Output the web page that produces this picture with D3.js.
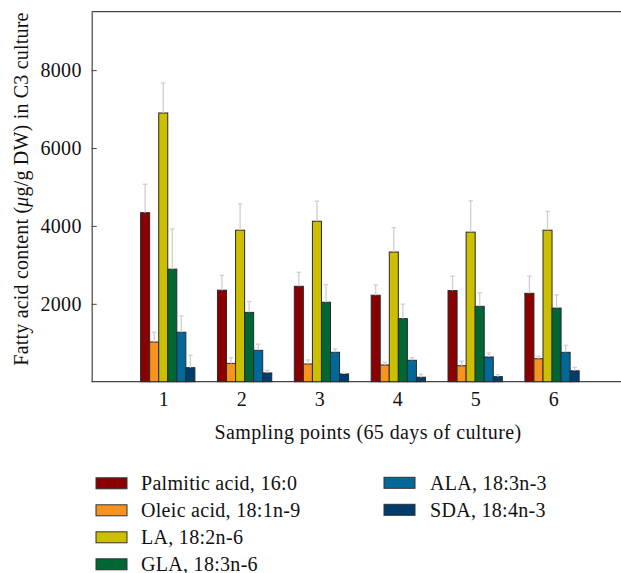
<!DOCTYPE html>
<html>
<head>
<meta charset="utf-8">
<script src="https://cdn.jsdelivr.net/npm/d3@7"></script>
<style>
  html, body { margin: 0; padding: 0; background: #fff; }
  svg { display: block; }
</style>
</head>
<body>
<svg id="chart" width="621" height="573"></svg>
<script>
// ---- data ----
const categories = ["1", "2", "3", "4", "5", "6"];
const seriesNames = ["Palmitic acid, 16:0", "Oleic acid, 18:1n-9", "LA, 18:2n-6", "GLA, 18:3n-6", "ALA, 18:3n-3", "SDA, 18:4n-3"];
const seriesColors = ["#8a0000", "#f7931e", "#cbbf00", "#006633", "#00699a", "#003d6e"];

const palmitic    = [4340, 2350, 2450, 2220, 2340, 2270];
const palmiticErr = [730, 380, 360, 260, 370, 440];
const oleic       = [1020, 470, 455, 430, 410, 590];
const oleicErr    = [250, 145, 105, 70, 120, 62];
const la          = [6900, 3890, 4120, 3330, 3840, 3890];
const laErr       = [770, 675, 515, 625, 805, 485];
const gla         = [2890, 1780, 2040, 1620, 1935, 1890];
const glaErr      = [1030, 280, 450, 370, 350, 340];
const ala         = [1270, 805, 755, 550, 635, 755];
const alaErr      = [420, 160, 85, 67, 103, 180];
const sda         = [360, 225, 200, 115, 130, 280];
const sdaErr      = [320, 70, 17, 77, 52, 88];

const yTicks = [2000, 4000, 6000, 8000];
const xTitle = "Sampling points (65 days of culture)";

const seriesValues = [palmitic, oleic, la, gla, ala, sda];
const seriesErrors = [palmiticErr, oleicErr, laErr, glaErr, alaErr, sdaErr];

// ---- layout ----
const FONT = "'Liberation Serif', 'DejaVu Serif', serif";
const svg = d3.select("#chart").attr("font-family", FONT);
const pL = 91.7, pR = 621, pT = 11.7, pB = 381.7;

const x = d3.scaleLinear().domain([0, 7]).range([90.9, 628.9]);
const inner = d3.scaleBand().domain(d3.range(seriesNames.length)).range([-27.15, 27.15]).padding(0);
const xTick = d3.scaleLinear().domain([1, 6]).range([163.3, 553.3]);
const y = d3.scaleLinear().domain([0, 9500]).range([pB, pT]);

// frame
const frame = svg.append("g").attr("stroke", "#444").attr("stroke-width", 1.2).attr("fill", "none");
frame.append("line").attr("x1", pL).attr("x2", pR).attr("y1", pT).attr("y2", pT);
frame.append("line").attr("x1", pL).attr("x2", pR).attr("y1", pB).attr("y2", pB);

// y axis
const yAxis = svg.append("g").attr("transform", `translate(${pL},0)`)
  .call(d3.axisLeft(y).tickValues(yTicks).tickSizeInner(-5).tickSizeOuter(0).tickPadding(10).tickFormat(d3.format("d")));
yAxis.attr("font-family", FONT).attr("font-size", 20);
yAxis.select(".domain").attr("stroke", "#444").attr("stroke-width", 1.2);
yAxis.selectAll(".tick line").attr("stroke", "#444");
yAxis.selectAll("text").attr("letter-spacing", 0.3).attr("fill", "#111");

// x axis labels
const xAxis = svg.append("g").attr("transform", `translate(0,${pB})`)
  .call(d3.axisBottom(xTick).tickValues(d3.range(1, 7)).tickSize(0).tickPadding(9.8).tickFormat(i => categories[i - 1]));
xAxis.attr("font-family", FONT).attr("font-size", 20);
xAxis.select(".domain").remove();
xAxis.selectAll("text").attr("fill", "#111");

// bars
const flat = [];
seriesValues.forEach((vals, s) => vals.forEach((v, i) => flat.push({ s, i, v, e: seriesErrors[s][i] })));

const bw = inner.bandwidth();
svg.append("g").selectAll("rect").data(flat).join("rect")
  .attr("x", d => x(d.i + 1) + inner(d.s))
  .attr("y", d => y(d.v))
  .attr("width", bw)
  .attr("height", d => y(0) - y(d.v))
  .attr("fill", d => seriesColors[d.s])
  .attr("stroke", "#2b2b2b").attr("stroke-width", 1);

// error bars
const eb = svg.append("g").attr("stroke", "#cfcfcf").attr("stroke-width", 1.3);
eb.selectAll("line.v").data(flat).join("line").attr("class", "v")
  .attr("x1", d => x(d.i + 1) + inner(d.s) + bw / 2)
  .attr("x2", d => x(d.i + 1) + inner(d.s) + bw / 2)
  .attr("y1", d => y(d.v))
  .attr("y2", d => y(d.v + d.e));
eb.selectAll("line.c").data(flat).join("line").attr("class", "c")
  .attr("x1", d => x(d.i + 1) + inner(d.s) + bw / 2 - 2.2)
  .attr("x2", d => x(d.i + 1) + inner(d.s) + bw / 2 + 2.2)
  .attr("y1", d => y(d.v + d.e))
  .attr("y2", d => y(d.v + d.e));

// y title
const yt = svg.append("text")
  .attr("transform", `translate(28,189) rotate(-90)`)
  .attr("text-anchor", "middle").attr("font-size", 20).attr("letter-spacing", 0.2).attr("fill", "#111");
yt.append("tspan").text("Fatty acid content (");
yt.append("tspan").attr("font-style", "italic").text("\u03bc");
yt.append("tspan").text("g/g DW) in C3 culture");

// x title
svg.append("text").attr("x", 368).attr("y", 439.3).attr("text-anchor", "middle").attr("fill", "#111")
  .attr("font-size", 20).attr("letter-spacing", 0.4).text(xTitle);

// legend
const legendPos = seriesNames.map((n, k) => k < 4
  ? { sx: 96, tx: 141, cy: 483.3 + k * 27 }
  : { sx: 384, tx: 430, cy: 482.8 + (k - 4) * 27 });
const lg = svg.append("g").selectAll("g").data(seriesNames).join("g");
lg.append("rect")
  .attr("x", (d, k) => legendPos[k].sx).attr("y", (d, k) => legendPos[k].cy - 5.5)
  .attr("width", 31).attr("height", 11)
  .attr("fill", (d, k) => seriesColors[k]).attr("stroke", "#333").attr("stroke-width", 1);
lg.append("text")
  .attr("x", (d, k) => legendPos[k].tx).attr("y", (d, k) => legendPos[k].cy + 7)
  .attr("font-size", 20).attr("letter-spacing", 0.3).attr("fill", "#111").text(d => d);
</script>
</body>
</html>
